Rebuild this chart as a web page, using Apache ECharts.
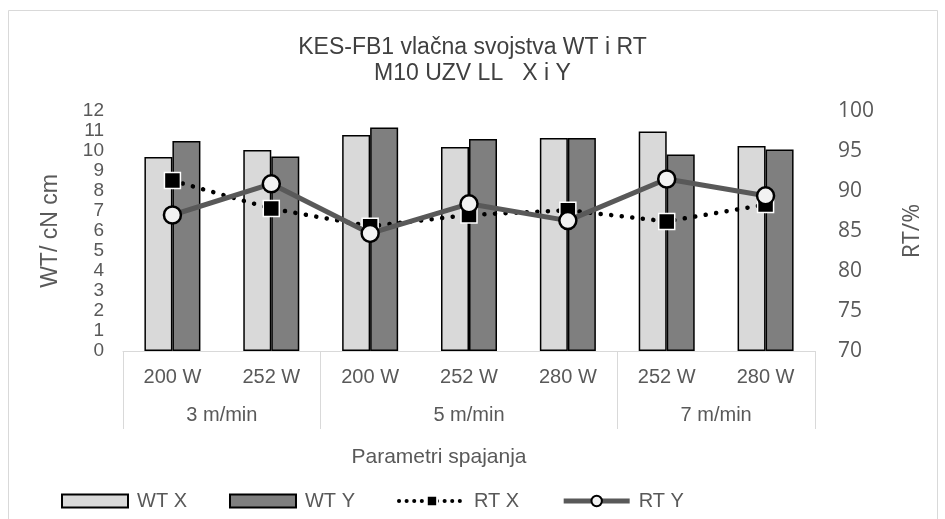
<!DOCTYPE html>
<html>
<head>
<meta charset="utf-8">
<script src="https://cdn.jsdelivr.net/npm/echarts@6/dist/echarts.min.js"></script>
<style>html,body{margin:0;padding:0;background:#fff}#c{width:945px;height:519px}</style>
</head>
<body>
<div id="c"></div>
<script>
const categories = ['200 W', '252 W', '200 W', '252 W', '280 W', '252 W', '280 W'];
const groupLabels = ['3 m/min', '5 m/min', '7 m/min'];
const groupSizes = [2, 3, 2];
const wtX = [9.7, 10.05, 10.8, 10.2, 10.65, 10.97, 10.25];
const wtY = [10.5, 9.72, 11.18, 10.6, 10.65, 9.82, 10.08];
const rtX = [91.3, 87.8, 85.6, 87.0, 87.6, 86.2, 88.3];
const rtY = [87.0, 90.9, 84.7, 88.4, 86.3, 91.5, 89.4];
const leftTicks = {min: 0, max: 12, interval: 1};
const rightTicks = {min: 70, max: 100, interval: 5};

// half-category positions for the group axis
const nHalf = categories.length * 2 + 1;
const halfData = [];
for (let i = 0; i < nHalf; i++) halfData.push('');
const dividerIdx = [0];
const labelIdx = [];
let acc = 0;
groupSizes.forEach((s, g) => {
  labelIdx.push(acc * 2 + s);
  halfData[acc * 2 + s] = groupLabels[g];
  acc += s;
  dividerIdx.push(acc * 2);
});

const FONT = "'Liberation Sans', Arial, sans-serif";
const FONT2 = "'Open Sans', 'Liberation Sans', sans-serif";
const TXT = '#595959';

const chart = echarts.init(document.getElementById('c'), null, {renderer: 'canvas'});
chart.setOption({
  animation: false,
  backgroundColor: '#fff',
  graphic: [{
    type: 'rect', shape: {x: 8.5, y: 10.5, width: 929, height: 530},
    style: {fill: 'none', stroke: '#d9d9d9', lineWidth: 1}, silent: true, z: -1
  }],
  title: {
    text: 'KES-FB1 vlačna svojstva WT i RT\nM10 UZV LL   X i Y',
    left: 'center', top: 30,
    textStyle: {fontFamily: FONT, fontSize: 23, fontWeight: 'normal', color: '#404040', lineHeight: 26}
  },
  legend: {
    left: 56, top: 486,
    itemWidth: 66, itemHeight: 13, itemGap: 42,
    textStyle: {fontFamily: FONT, fontSize: 20, color: TXT, padding: [0, 0, 0, 4]},
    data: [
      {name: 'WT X', icon: 'rect'},
      {name: 'WT Y', icon: 'rect'},
      {name: 'RT X', lineStyle: {width: 4, type: [0.1, 7.5], cap: 'round', color: '#000'}},
      {name: 'RT Y', lineStyle: {width: 5, color: '#595959'}}
    ]
  },
  grid: {left: 123, right: 130, top: 111, bottom: 168, containLabel: false},
  xAxis: [{
    type: 'category', data: categories, boundaryGap: true,
    axisLine: {show: true, lineStyle: {color: '#d9d9d9', width: 1}},
    axisTick: {show: false},
    axisLabel: {fontFamily: FONT, fontSize: 20, color: TXT, margin: 16, interval: 0},
    splitLine: {show: false}
  }, {
    type: 'category', data: halfData, boundaryGap: false, position: 'bottom',
    axisLine: {show: false},
    axisTick: {show: true, length: 78, inside: false,
      interval: (i) => dividerIdx.indexOf(i) >= 0,
      lineStyle: {color: '#d9d9d9', width: 1}},
    axisLabel: {fontFamily: FONT, fontSize: 20, color: TXT, margin: 54,
      interval: (i) => labelIdx.indexOf(i) >= 0},
    splitLine: {show: false},
    name: 'Parametri spajanja', nameLocation: 'middle', nameGap: 96,
    nameTextStyle: {fontFamily: FONT, fontSize: 21, color: TXT, padding: [0, 60, 0, 0]}
  }],
  yAxis: [{
    type: 'value', min: leftTicks.min, max: leftTicks.max, interval: leftTicks.interval,
    axisLine: {show: false}, axisTick: {show: false}, splitLine: {show: false},
    axisLabel: {fontFamily: FONT, fontSize: 19, color: TXT, margin: 19},
    name: 'WT/ cN cm', nameLocation: 'middle', nameRotate: 90, nameGap: 61,
    nameTextStyle: {fontFamily: FONT, fontSize: 23, color: TXT}
  }, {
    type: 'value', min: rightTicks.min, max: rightTicks.max, interval: rightTicks.interval,
    position: 'right',
    axisLine: {show: false}, axisTick: {show: false}, splitLine: {show: false},
    axisLabel: {fontFamily: FONT2, fontSize: 21, color: TXT, margin: 23},
    name: 'RT/%', nameLocation: 'middle', nameRotate: 90, nameGap: 86,
    nameTextStyle: {fontFamily: FONT2, fontSize: 23, color: TXT}
  }],
  series: [{
    name: 'WT X', type: 'bar', data: wtX, xAxisIndex: 0, yAxisIndex: 0,
    barWidth: 28, barGap: '0%',
    itemStyle: {color: '#d9d9d9', borderColor: '#000', borderWidth: 1.5}
  }, {
    name: 'WT Y', type: 'bar', data: wtY, xAxisIndex: 0, yAxisIndex: 0,
    barWidth: 28, barGap: '0%',
    itemStyle: {color: '#7f7f7f', borderColor: '#000', borderWidth: 1.5}
  }, {
    name: 'RT X', type: 'line', data: rtX, xAxisIndex: 0, yAxisIndex: 1,
    symbol: 'rect', symbolSize: 16,
    lineStyle: {color: '#000', width: 4.5, type: [0.1, 10.5], cap: 'round'},
    itemStyle: {color: '#000', borderColor: '#fff', borderWidth: 1.5},
    z: 3
  }, {
    name: 'RT Y', type: 'line', data: rtY, xAxisIndex: 0, yAxisIndex: 1,
    symbol: 'circle', symbolSize: 17,
    lineStyle: {color: '#595959', width: 5},
    itemStyle: {color: '#f2f2f2', borderColor: '#000', borderWidth: 2.5},
    z: 4
  }]
});
</script>
</body>
</html>
